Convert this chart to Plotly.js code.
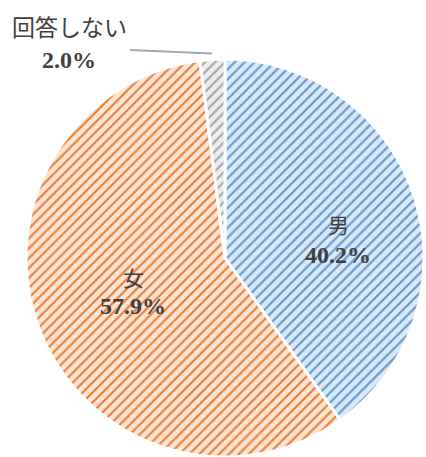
<!DOCTYPE html>
<html>
<head>
<meta charset="utf-8">
<script src="https://cdn.plot.ly/plotly-3.0.1.min.js"></script>
<style>html,body{margin:0;padding:0;background:#fff;}#chart{width:426px;height:457px;}</style>
</head>
<body>
<div id="chart"></div>
<script>
const labels = ["男", "女", "回答しない"];
const values = [40.2, 57.9, 2.0];
const pctText = ["40.2%", "57.9%", "2.0%"];
const fgColors = ["#5b9bd5", "#ed7d31", "#a5a5a5"];
const bgColors = ["#dde9f6", "#fce4d6", "#ededed"];

const W = 426, H = 457;
const cx = 225, cy = 258, R = 199;
const domX = [(cx - R) / W, (cx + R) / W];
const domY = [(H - cy - R) / H, (H - cy + R) / H];

const numFont = "'Liberation Serif', 'Noto Sans CJK JP', serif";
const jpFont = "'Noto Sans CJK JP', sans-serif";

// label anchor positions (pixels) for category name and percentage
const namePos = [[338, 224], [133, 277], [69, 26]];
const pctPos = [[338, 255], [133, 306], [69, 60]];
const nameSize = [21, 21, 23];

// leader line for small slice, computed from data
const total = values.reduce((a, b) => a + b, 0);
const before = values[0] + values[1];
const midFrac = (before + values[2] / 2) / total;
const ang = midFrac * 2 * Math.PI;
const px = cx + (R + 6) * Math.sin(ang);
const py = cy - (R + 6) * Math.cos(ang);

const trace = {
  type: "pie",
  labels: labels,
  values: values,
  sort: false,
  direction: "clockwise",
  rotation: 0,
  domain: {x: domX, y: domY},
  textinfo: "none",
  hoverinfo: "none",
  marker: {
    colors: bgColors,
    line: {color: "#ffffff", width: 3},
    pattern: {shape: "/", fgcolor: fgColors, bgcolor: bgColors, size: 7, solidity: 0.3, fillmode: "replace"}
  },
  showlegend: false
};

const annotations = [];
labels.forEach((lab, i) => {
  annotations.push({
    xref: "paper", yref: "paper", x: namePos[i][0] / W, y: 1 - namePos[i][1] / H,
    xanchor: "center", yanchor: "middle", showarrow: false,
    text: lab,
    font: {family: jpFont, size: nameSize[i], color: "#404040"}
  });
  annotations.push({
    xref: "paper", yref: "paper", x: pctPos[i][0] / W, y: 1 - pctPos[i][1] / H,
    xanchor: "center", yanchor: "middle", showarrow: false,
    text: pctText[i],
    font: {family: numFont, size: 24, color: "#404040", weight: "bold"}
  });
});

const layout = {
  width: W, height: H,
  margin: {l: 0, r: 0, t: 0, b: 0},
  paper_bgcolor: "#ffffff",
  showlegend: false,
  shapes: [{
    type: "line", xref: "paper", yref: "paper",
    x0: 130 / W, y0: 1 - 50 / H, x1: px / W, y1: 1 - py / H,
    line: {color: "#a6a6a6", width: 2}
  }],
  annotations: annotations
};

Plotly.newPlot("chart", [trace], layout, {displayModeBar: false, staticPlot: true});
</script>
</body>
</html>
